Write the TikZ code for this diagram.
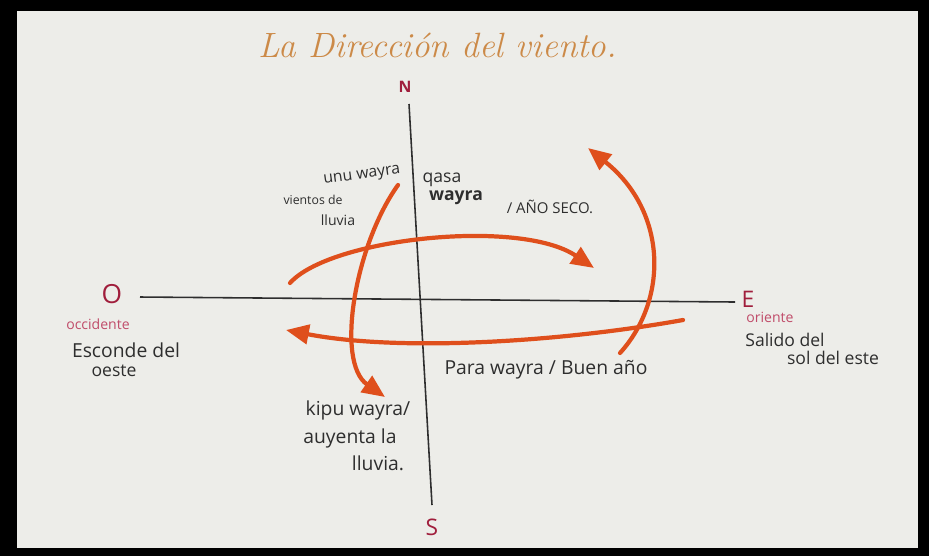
\documentclass[tikz,border=0pt]{standalone}
\usepackage{fontspec}
\newfontfamily\handfont{Open Sans}
\usetikzlibrary{arrows.meta}
\definecolor{paper}{HTML}{EDEDE9}
\definecolor{windred}{HTML}{DF4F1C}
\definecolor{titleor}{HTML}{CC8A48}
\definecolor{cardred}{HTML}{A01E3C}
\definecolor{pinkish}{HTML}{C04C6A}
\definecolor{inkgray}{HTML}{2E2E2E}

\begin{document}
\begin{tikzpicture}[x=0.02cm, y=-0.02cm,
  wind/.style={line width=2.4pt, draw=windred, line cap=round, -{Triangle[length=13pt,width=11pt]}},
  hand/.style={text=inkgray, inner sep=0pt, font=\handfont\fontsize{10}{12}\selectfont},
  card/.style={text=cardred, inner sep=0pt, font=\handfont}]
\useasboundingbox[fill=black] (0,0) rectangle (929,556);
\fill[paper] (17,11) rectangle (918,548);

\node[text=titleor, font=\itshape\fontsize{20}{24}\selectfont] (title) at (438,45) {La Dirección del viento.};

% axes
\node[card, font=\handfont\bfseries\fontsize{9}{10}\selectfont] (n) at (405,87) {N};
\node[card, font=\handfont\fontsize{13}{14}\selectfont] (s) at (432,527) {S};
\node[card, font=\handfont\fontsize{15}{16}\selectfont] (o) at (112,294) {O};
\node[card, font=\handfont\fontsize{13}{14}\selectfont] (e) at (748,299) {E};
\coordinate (ntop) at (409,104);
\coordinate (sbot) at (432,505);
\coordinate (wend) at (140,297);
\coordinate (eend) at (735,302);
\draw[inkgray, line width=0.9pt] (ntop) -- (sbot);
\draw[inkgray, line width=0.9pt] (wend) -- (eend);

\node[text=pinkish, inner sep=0pt, font=\handfont\fontsize{8}{9}\selectfont] (occ) at (98,324) {occidente};
\node[hand, font=\handfont\fontsize{11}{12}\selectfont] (esc) at (126,350) {Esconde del};
\node[hand] (oes) at (114,371) {oeste};
\node[text=pinkish, inner sep=0pt, font=\handfont\fontsize{8}{9}\selectfont] (ori) at (770,317) {oriente};
\node[hand] (sal1) at (785,340) {Salido del};
\node[hand] (sal2) at (833,358) {sol del este};

\node[hand, rotate=8, font=\handfont\fontsize{9}{10}\selectfont] (unu) at (362,176) {unu wayra};
\node[hand, font=\handfont\fontsize{7}{8}\selectfont] (vie) at (313,200) {vientos de};
\node[hand, font=\handfont\fontsize{8}{9}\selectfont] (llu1) at (338,220) {lluvia};

\node[hand] (qasa) at (442,180) {qasa};
\node[hand, font=\handfont\bfseries\fontsize{10}{12}\selectfont] (qway) at (456,198) {wayra};
\node[hand, font=\handfont\fontsize{8.5}{10}\selectfont] (seco) at (550,207) {/ AÑO SECO.};

\node[hand, font=\handfont\fontsize{11}{13}\selectfont] (para) at (546,370) {Para wayra / Buen año};

\node[hand, font=\handfont\fontsize{11}{12}\selectfont] (kipu) at (358,410) {kipu wayra/};
\node[hand, font=\handfont\fontsize{11}{12}\selectfont] (auy) at (350,438) {auyenta la};
\node[hand, font=\handfont\fontsize{11}{12}\selectfont] (llu2) at (378,463) {lluvia.};

% winds
\coordinate (w1) at (290,283);
\coordinate (e1) at (594,268);
\coordinate (e2) at (683,320);
\coordinate (w2) at (286,330);
\coordinate (n3) at (398,185);
\coordinate (s3) at (385,397);
\coordinate (s4) at (620,353);
\coordinate (n4) at (588,148);
\draw[wind] (w1) .. controls (330,238) and (520,218) .. (e1);
\draw[wind] (e2) .. controls (560,342) and (400,352) .. (w2);
\draw[wind] (n3) .. controls (355,245) and (335,362) .. (s3);
\draw[wind] (s4) .. controls (668,300) and (668,212) .. (n4);
\end{tikzpicture}
\end{document}
